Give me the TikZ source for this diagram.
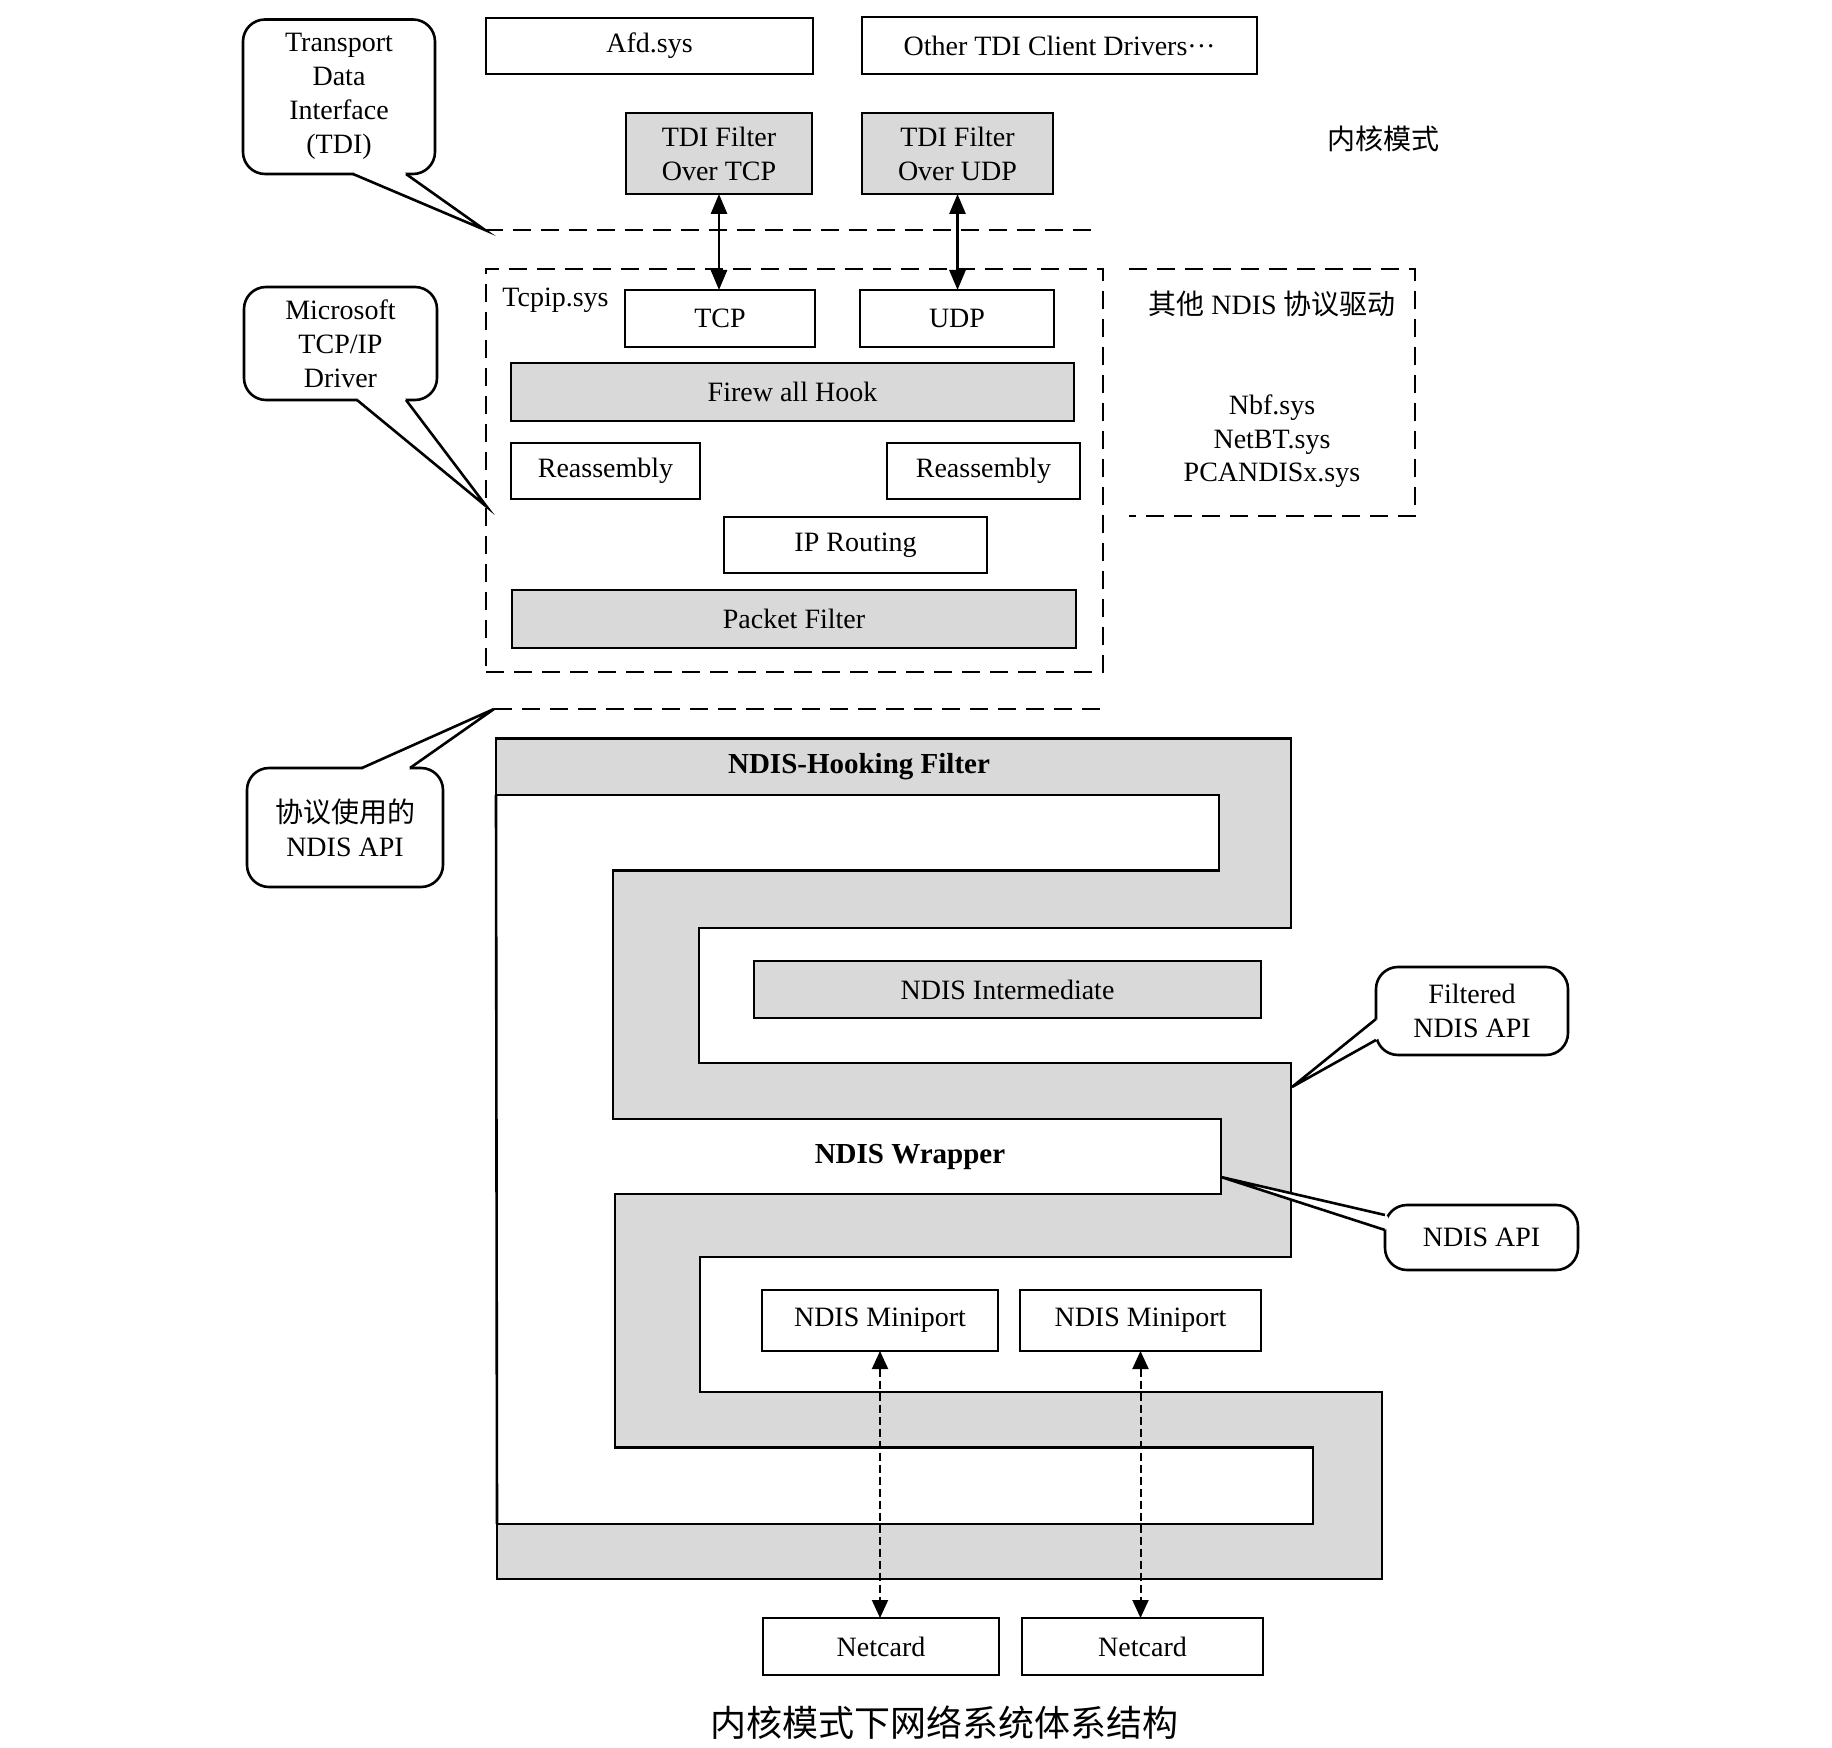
\documentclass[tikz,border=0pt]{standalone}
\usepackage{fontspec}
\setmainfont{Liberation Serif}
\newfontfamily\cjk{Noto Sans CJK SC}
\usetikzlibrary{arrows.meta}
\newcommand\mybox[7]{\node[#1, minimum width={(#5-#3)*0.5pt}, minimum height={(#6-#4)*0.5pt}] (#2) at ({(#3+#5)/2},{(#4+#6)/2}) {#7};}
\begin{document}
\begin{tikzpicture}[x=0.5pt,y=-0.5pt]
\tikzset{
  bx/.style={draw, line width=1.3pt, inner sep=0pt, outer sep=0pt, align=center, font=\fontsize{14}{17}\selectfont},
  gbx/.style={bx, fill=gray!30},
  wbx/.style={bx, fill=white},
  callout/.style={bx, fill=white, rounded corners=11pt},
  dline/.style={line width=1.3pt, dash pattern=on 9pt off 5pt},
  arr/.style={line width=1.4pt, {Triangle[length=10pt,width=8pt]}-{Triangle[length=10pt,width=8pt]}},
  darr/.style={line width=1pt, dash pattern=on 4pt off 2pt, {Triangle[length=9pt,width=8pt]}-{Triangle[length=9pt,width=8pt]}},
  txt/.style={inner sep=0pt, align=center, font=\fontsize{14}{17}\selectfont},
  btxt/.style={inner sep=0pt, align=center, font=\fontsize{14.5}{17}\selectfont\bfseries},
  wedge/.style={line width=1.3pt}
}
\useasboundingbox[fill=white] (0,0) rectangle (1832,1748);

% ---------- top: TDI clients ----------
\mybox{wbx}{afd}{486}{18}{813}{74}{Afd.sys}
\mybox{wbx}{other}{862}{17}{1257}{74}{Other TDI Client Drivers···}
\mybox{gbx}{tdiTCP}{626}{113}{812}{194}{TDI Filter\\Over TCP}
\mybox{gbx}{tdiUDP}{862}{113}{1053}{194}{TDI Filter\\Over UDP}
\node[txt, font=\fontsize{14}{17}\selectfont\cjk] (kmode) at (1383,139) {内核模式};

% dashed separator 1
\coordinate (d1a) at (485,230);
\coordinate (d1b) at (1098,230);
\draw[dline] (d1a) -- (d1b);

% ---------- Tcpip.sys ----------
\mybox{draw, dline}{tcpip}{486}{269}{1103}{672}{}
\node[txt, anchor=west] (tcpiplbl) at (502,300) {Tcpip.sys};
\mybox{wbx}{tcp}{625}{290}{815}{347}{TCP}
\mybox{wbx}{udp}{860}{290}{1054}{347}{UDP}
\mybox{gbx}{fw}{511}{363}{1074}{421}{Firew all Hook}
\mybox{wbx}{reasmL}{511}{443}{700}{499}{Reassembly}
\mybox{wbx}{reasmR}{887}{443}{1080}{499}{Reassembly}
\mybox{wbx}{iprt}{724}{517}{987}{573}{IP Routing}
\mybox{gbx}{pf}{512}{590}{1076}{648}{Packet Filter}

\draw[arr] (tdiTCP.south) -- (tdiTCP.south |- tcp.north);
\draw[arr] (tdiUDP.south) -- (tdiUDP.south |- udp.north);

% other NDIS protocol drivers
\draw[dline] (1129,269) -- (1415,269) -- (1415,516) -- (1129,516);
\node[txt] (othlbl) at (1272,304) {{\cjk 其他} NDIS {\cjk 协议驱动}};
\node[txt, font=\fontsize{14}{16.75}\selectfont] (othlist) at (1272,441.5) {Nbf.sys\\NetBT.sys\\PCANDISx.sys};

% dashed separator 2
\coordinate (d2a) at (494,709);
\coordinate (d2b) at (1102,709);
\draw[dline] (d2a) -- (d2b);

% ---------- NDIS serpentine ----------
\draw[line width=1.3pt, fill=gray!30]
  (496,738.5) -- (1291,738.5) -- (1291,928) -- (699,928) -- (699,1063)
  -- (1291,1063) -- (1291,1257) -- (700,1257) -- (700,1392) -- (1382,1392)
  -- (1382,1579) -- (497,1579) -- (497,1524) -- (1313,1524) -- (1313,1447.5)
  -- (615,1447.5) -- (615,1194) -- (1221,1194) -- (1221,1119) -- (613,1119)
  -- (613,870.5) -- (1219,870.5) -- (1219,795) -- (496,795) -- cycle;
\draw[line width=1.3pt] (496,795) -- (497,1524);
\node[btxt] (hook) at (859,767) {NDIS-Hooking Filter};
\node[btxt] (wrap) at (910,1157) {NDIS Wrapper};
\mybox{gbx}{inter}{754}{961}{1261}{1018}{NDIS Intermediate}
\mybox{wbx}{mini1}{762}{1290}{998}{1351}{NDIS Miniport}
\mybox{wbx}{mini2}{1020}{1290}{1261}{1351}{NDIS Miniport}
\mybox{wbx}{net1}{763}{1618}{999}{1675}{Netcard}
\mybox{wbx}{net2}{1022}{1618}{1263}{1675}{Netcard}
\draw[darr] (mini1.south) -- (mini1.south |- net1.north);
\draw[darr] (mini2.south) -- (mini2.south |- net2.north);

% ---------- callouts ----------
\mybox{callout}{cTDI}{243}{19.5}{435}{174}{Transport\\Data\\Interface\\(TDI)}
\fill[white] (355,171) -- (353,174) -- (d1a) -- (406,174) -- (404,171) -- cycle;
\draw[wedge] (353,174) -- (d1a) -- (406,174);

\mybox{callout}{cMS}{244}{287}{437}{400}{Microsoft\\TCP/IP\\Driver}
\coordinate (msTip) at (487,507);
\fill[white] (359,397) -- (357,400) -- (msTip) -- (406,400) -- (404,397) -- cycle;
\draw[wedge] (357,400) -- (msTip) -- (406,400);

\mybox{callout}{cProto}{247}{768}{443}{887}{{\cjk 协议使用的}\\NDIS API}
\fill[white] (364,771) -- (362,768) -- (d2a) -- (410,768) -- (408,771) -- cycle;
\draw[wedge] (362,768) -- (d2a) -- (410,768);

\mybox{callout}{cFilt}{1376}{967}{1568}{1055}{Filtered\\NDIS API}
\coordinate (filtTip) at (1292,1087);
\fill[white] (1379,1021) -- (1376,1019) -- (filtTip) -- (1376,1040) -- (1379,1038) -- cycle;
\draw[wedge] (1376,1019) -- (filtTip) -- (1376,1040);

\mybox{callout}{cApi}{1385}{1205}{1578}{1270}{NDIS API}
\coordinate (apiTip) at (1221,1177);
\fill[white] (1388,1217) -- (1385,1215) -- (apiTip) -- (1385,1230) -- (1388,1228) -- cycle;
\draw[wedge] (1385,1215) -- (apiTip) -- (1385,1230);

% caption
\node[txt, font=\fontsize{18}{20}\selectfont\cjk] (caption) at (944,1723) {内核模式下网络系统体系结构};
\end{tikzpicture}
\end{document}
